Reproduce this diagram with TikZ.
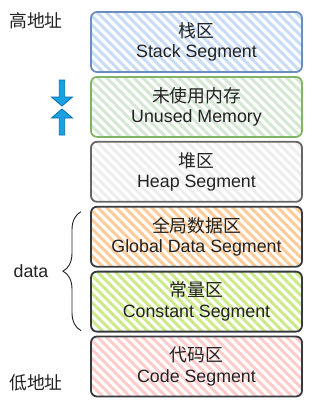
\documentclass[tikz,border=0pt]{standalone}
\usepackage{fontspec}
\setmainfont{Liberation Sans}
\newfontfamily\cjk{Noto Sans CJK SC}
\usetikzlibrary{positioning,calc,decorations.pathreplacing}

\definecolor{stackline}{HTML}{6C8EBF}
\definecolor{stackfill}{HTML}{C9DCF6}
\definecolor{unusedline}{HTML}{82B366}
\definecolor{unusedfill}{HTML}{D5E8D4}
\definecolor{heapline}{HTML}{666666}
\definecolor{heapfill}{HTML}{EEEEEE}
\definecolor{darkline}{HTML}{36393D}
\definecolor{globalfill}{HTML}{FFCC99}
\definecolor{constfill}{HTML}{CDEB8B}
\definecolor{codefill}{HTML}{FFCCCC}
\definecolor{arrowfill}{HTML}{1BA1E2}
\definecolor{arrowline}{HTML}{006EAF}
\definecolor{txt}{HTML}{222222}

\begin{document}
\begin{tikzpicture}[
    x=1pt, y=1pt,
    node distance=4.9pt,
    seg/.style 2 args={rectangle, draw=#1, line width=1.8pt, rounded corners=6pt, outer sep=0pt,
        minimum width=211pt, minimum height=60pt, align=center, text=txt,
        font=\fontsize{17.8}{20.5}\selectfont,
        path picture={\foreach \k in {-66,-57,...,220}
            \draw[#2, line width=3pt] ($(path picture bounding box.north west)+(\k,0)$) -- ++(70,-70);}},
    lbl/.style={text=txt, font=\fontsize{17.8}{20}\selectfont},
    brace/.style={decorate, decoration={brace, amplitude=18pt, aspect=0.5}, draw=txt, line width=0.9pt},
    % block arrow pointing down, tail at the origin
    pics/blockarrow/.style={code={
        \draw[fill=arrowfill, draw=arrowline, line width=0.8pt, line join=miter]
            (-2.7,0) -- (2.7,0) -- (2.7,-17) -- (10.5,-17) -- (0,-26) -- (-10.5,-17) -- (-2.7,-17) -- cycle;}}
]
\useasboundingbox (0,0) rectangle (328,-412);

% memory segments, high address on top
\node[seg={stackline}{stackfill}] (stack) at (196.5,-42) {{\cjk 栈区}\\Stack Segment};
\node[seg={unusedline}{unusedfill}, below=of stack] (unused) {{\cjk 未使用内存}\\Unused Memory};
\node[seg={heapline}{heapfill}, below=of unused] (heap) {{\cjk 堆区}\\Heap Segment};
\node[seg={darkline}{globalfill}, below=of heap] (global) {{\cjk 全局数据区}\\Global Data Segment};
\node[seg={darkline}{constfill}, below=of global] (const) {{\cjk 常量区}\\Constant Segment};
\node[seg={darkline}{codefill}, below=of const] (code) {{\cjk 代码区}\\Code Segment};

% address labels
\node[lbl, font=\cjk\fontsize{17.8}{20}\selectfont] (high) at (36,-21) {高地址};
\node[lbl, font=\cjk\fontsize{17.8}{20}\selectfont] (low) at (36,-383) {低地址};

% stack and heap grow towards each other
\pic (shrink) at (62,-80) {blockarrow};
\pic[rotate=180] (grow) at (62,-135) {blockarrow};

% data part
\coordinate (btop) at ($(global.north west)+(-10,-5)$);
\coordinate (bbot) at ($(const.south west)+(-10,1)$);
\draw[brace] (bbot) -- (btop);
\node[lbl] (data) at (31,-271) {data};

\end{tikzpicture}
\end{document}
